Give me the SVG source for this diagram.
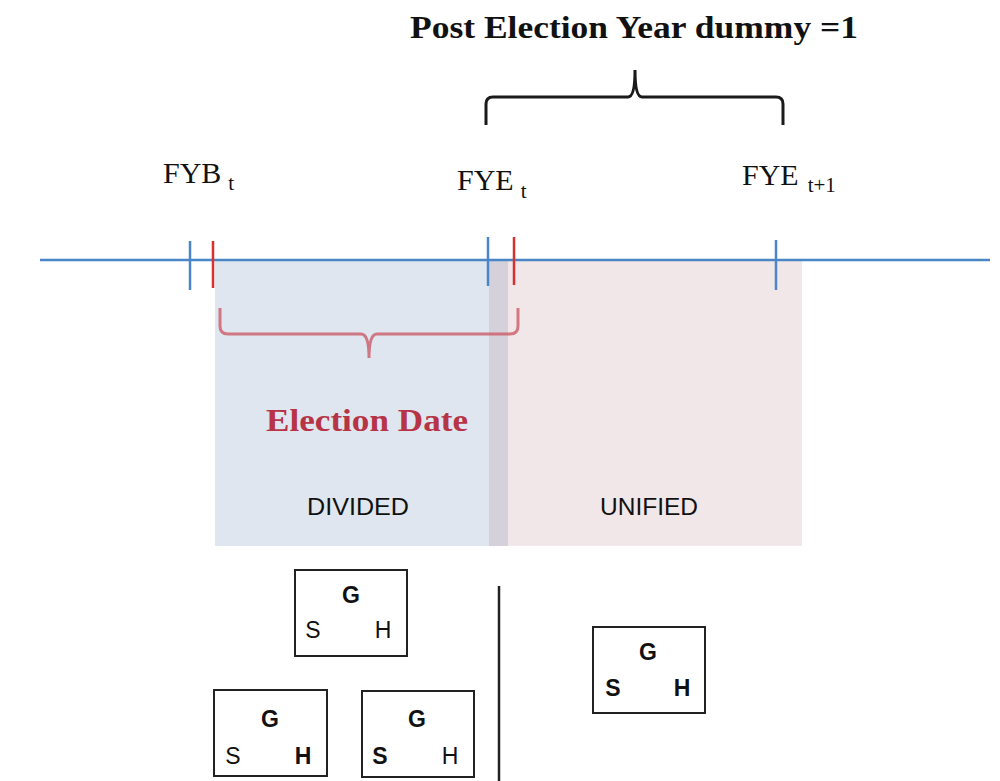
<svg xmlns="http://www.w3.org/2000/svg" width="1000" height="781" viewBox="0 0 1000 781">
<style>
.serif{font-family:"Liberation Serif","DejaVu Serif",serif;fill:#111}
.sans{font-family:"Liberation Sans","DejaVu Sans",sans-serif;fill:#111}
.box{fill:#fff;stroke:#222;stroke-width:2}
.bt{font-family:"Liberation Sans","DejaVu Sans",sans-serif;font-size:23px;fill:#111;text-anchor:middle}
.b{font-weight:bold}
.tick-b{stroke:#4a86c5;stroke-width:2.5}
.tick-r{stroke:#d9302f;stroke-width:2.5}
</style>
<rect width="1000" height="781" fill="#fff"/>
<g id="regions">
<rect x="215" y="260" width="275" height="286" fill="#dfe6ef"/>
<rect x="508" y="260" width="294" height="286" fill="#f1e6e8"/>
<rect x="489" y="260" width="19" height="286" fill="#d5d1da"/>
</g>
<g id="title">
<text class="serif b" x="410" y="38" font-size="31" textLength="448" lengthAdjust="spacingAndGlyphs">Post Election Year dummy =1</text>
</g>
<g id="labels">
<text class="serif" x="163" y="183" font-size="30">FYB<tspan font-size="21" dx="7" dy="7">t</tspan></text>
<text class="serif" x="457" y="190" font-size="30">FYE<tspan font-size="21" dx="7" dy="8">t</tspan></text>
<text class="serif" x="742" y="185" font-size="30">FYE<tspan font-size="21" dx="9" dy="7">t+1</tspan></text>
<text class="serif b" x="266" y="431" font-size="32" textLength="202" lengthAdjust="spacingAndGlyphs" style="fill:#b73447">Election Date</text>
<text class="sans" x="358" y="515" font-size="24" text-anchor="middle" textLength="102" lengthAdjust="spacingAndGlyphs">DIVIDED</text>
<text class="sans" x="649" y="515" font-size="24" text-anchor="middle" textLength="98" lengthAdjust="spacingAndGlyphs">UNIFIED</text>
</g>
<g id="connectors" fill="none">
<line x1="40" y1="260" x2="990" y2="260" stroke="#4a86c5" stroke-width="2.5"/>
<line class="tick-b" x1="190" y1="241" x2="190" y2="290"/>
<line class="tick-r" x1="213" y1="241" x2="213" y2="288"/>
<line class="tick-b" x1="488" y1="237" x2="488" y2="286"/>
<line class="tick-r" x1="514" y1="237" x2="514" y2="285"/>
<line class="tick-b" x1="776" y1="240" x2="776" y2="290"/>
<path d="M486,125 V104 Q486,97 493,97 H628 Q635,97 635,70 Q635,97 642,97 H776 Q783,97 783,104 V125" stroke="#1a1a1a" stroke-width="3"/>
<path d="M220,308 V326 Q220,334 228,334 H361 Q369,334 369,358 Q369,334 377,334 H510 Q518,334 518,326 V308" stroke="#c9515f" stroke-opacity="0.75" stroke-width="3"/>
<line x1="499" y1="586" x2="499" y2="781" stroke="#222" stroke-width="2.5"/>
</g>
<g id="box1">
<rect class="box" x="295" y="570" width="112" height="86"/>
<text class="bt b" x="351" y="603">G</text>
<text class="bt" x="313" y="638">S</text>
<text class="bt" x="383" y="638">H</text>
</g>
<g id="box2">
<rect class="box" x="214" y="690" width="113" height="86"/>
<text class="bt b" x="270" y="727">G</text>
<text class="bt" x="233" y="764">S</text>
<text class="bt b" x="303" y="764">H</text>
</g>
<g id="box3">
<rect class="box" x="362" y="691" width="112" height="86"/>
<text class="bt b" x="417" y="727">G</text>
<text class="bt b" x="380" y="764">S</text>
<text class="bt" x="450" y="764">H</text>
</g>
<g id="box4">
<rect class="box" x="593" y="627" width="112" height="86"/>
<text class="bt b" x="648" y="660">G</text>
<text class="bt b" x="613" y="696">S</text>
<text class="bt b" x="682" y="696">H</text>
</g>
</svg>
